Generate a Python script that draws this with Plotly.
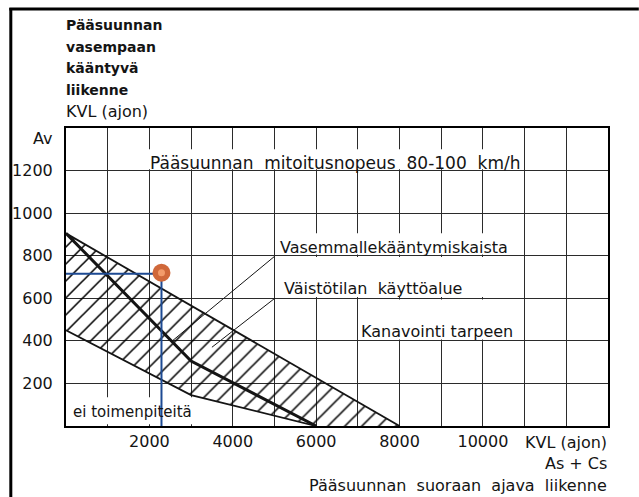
import plotly.graph_objects as go

# ---------------- data ----------------
KVL_UPPER = [0, 8000]            # upper boundary of the hatched area
AV_UPPER = [905, 0]
KVL_MID = [0, 3000, 6000]        # thick line (left-turn lane)
AV_MID = [905, 305, 0]
KVL_LOWER = [0, 3000, 6000]      # lower boundary of the hatched area
AV_LOWER = [450, 145, 0]
EXAMPLE_KVL = [2290]             # example point (orange dot)
EXAMPLE_AV = [720]
X_TICKS = [2000, 4000, 6000, 8000, 10000]
X_TICK_LABELS = ["2000", "4000", "6000", "8000", "10000"]
Y_TICKS = [200, 400, 600, 800, 1000, 1200]
Y_TICK_LABELS = ["200", "400", "600", "800", "1000", "1200"]

FONT = "DejaVu Sans"
INK = "#141414"
NB = "\u00a0"

W, H = 639, 497
ML, MR, MT, MB = 63, 31, 128, 71
PW, PH = W - ML - MR, H - MT - MB


def pxx(x):
    return (x - ML) / PW


def pxy(y):
    return (H - MB - y) / PH


fig = go.Figure()

# hatched area between upper and lower boundary
fig.add_trace(go.Scatter(
    x=KVL_UPPER + KVL_LOWER[::-1],
    y=AV_UPPER + AV_LOWER[::-1],
    mode="lines", line=dict(width=0), fill="toself",
    fillcolor="rgba(0,0,0,0)",
    fillpattern=dict(shape="/", fgcolor="#000000", bgcolor="rgba(0,0,0,0)",
                     fgopacity=1, size=12, solidity=0.13,
                     fillmode="overlay"),
    hoverinfo="skip", showlegend=False))

fig.add_trace(go.Scatter(x=KVL_UPPER, y=AV_UPPER, mode="lines",
                         line=dict(color=INK, width=1.8), showlegend=False))
fig.add_trace(go.Scatter(x=KVL_LOWER, y=AV_LOWER, mode="lines",
                         line=dict(color=INK, width=1.8), showlegend=False))
fig.add_trace(go.Scatter(x=KVL_MID, y=AV_MID, mode="lines",
                         line=dict(color=INK, width=3), showlegend=False))

# blue reading lines to the example point
fig.add_trace(go.Scatter(x=[0, EXAMPLE_KVL[0], EXAMPLE_KVL[0]],
                         y=[EXAMPLE_AV[0] - 5, EXAMPLE_AV[0] - 5, 0],
                         mode="lines", line=dict(color="#1d4a93", width=2),
                         showlegend=False))
fig.add_trace(go.Scatter(x=EXAMPLE_KVL, y=EXAMPLE_AV, mode="markers",
                         marker=dict(size=18, color="#d0683a",
                                     line=dict(width=0)), showlegend=False))
fig.add_trace(go.Scatter(x=EXAMPLE_KVL, y=EXAMPLE_AV, mode="markers",
                         marker=dict(size=7, color="#f39b6a",
                                     line=dict(width=0)), showlegend=False))

shapes = []
# white areas behind the labels (above gridlines, below traces)
for x0, x1, y0, y1 in [(1880, 10900, 1206, 1300),
                       (5050, 10800, 806, 905),
                       (5050, 10800, 606, 794),
                       (7080, 10800, 406, 594),
                       (100, 3100, 8, 135)]:
    shapes.append(dict(type="rect", xref="x", yref="y", x0=x0, x1=x1,
                       y0=y0, y1=y1, fillcolor="white", line=dict(width=0),
                       layer="between"))
# leader lines
for x0, y0, x1, y1 in [(5008, 798, 2550, 400), (5008, 600, 3500, 370)]:
    shapes.append(dict(type="line", xref="x", yref="y", x0=x0, y0=y0,
                       x1=x1, y1=y1, line=dict(color=INK, width=1)))
# outer frame (left and top)
shapes.append(dict(type="line", xref="paper", yref="paper", x0=pxx(7.5),
                   x1=pxx(7.5), y0=pxy(8), y1=pxy(497),
                   line=dict(color="black", width=3)))
shapes.append(dict(type="line", xref="paper", yref="paper", x0=pxx(6),
                   x1=pxx(639), y0=pxy(9), y1=pxy(9),
                   line=dict(color="black", width=3)))

ann = []


def txt(text, x, y, size=16, anchor="left", bold=False, xref="paper",
        yref="paper"):
    t = f"<b>{text}</b>" if bold else text
    ann.append(dict(text=t, x=x, y=y, xref=xref, yref=yref, xanchor=anchor,
                    yanchor="middle", showarrow=False,
                    font=dict(family=FONT, size=size, color=INK)))


# top-left axis title
for i, line in enumerate(["Pääsuunnan", "vasempaan", "kääntyvä", "liikenne"]):
    txt(line, pxx(61), pxy(25 + 21.7 * i), size=14, bold=True)
txt("KVL (ajon)", pxx(61), pxy(111.7), size=16)
txt("Av", pxx(51), pxy(138), size=16, anchor="right")

txt(f"Pääsuunnan{NB*2}mitoitusnopeus{NB*2}80-100{NB*2}km/h",
    pxx(145), pxy(163), size=17)
txt("Vasemmallekääntymiskaista", pxx(276), pxy(247), size=16)
txt(f"Väistötilan{NB*2}käyttöalue", pxx(280), pxy(288), size=16)
txt("Kanavointi tarpeen", pxx(358), pxy(331), size=16)
txt("ei toimenpiteitä", pxx(68), pxy(412), size=15)

# bottom axis title
txt("KVL (ajon)", pxx(609), pxy(442), size=16, anchor="right")
txt(f"As{NB}+{NB}Cs", pxx(609), pxy(463.5), size=16, anchor="right")
txt(f"Pääsuunnan{NB*2}suoraan{NB*2}ajava{NB*2}liikenne", pxx(609),
    pxy(485.5), size=16, anchor="right")

grid = dict(gridcolor="#2b2b2b", gridwidth=1.3)
fig.update_layout(
    width=W, height=H, autosize=False,
    margin=dict(l=ML, r=MR, t=MT, b=MB, pad=0),
    paper_bgcolor="white", plot_bgcolor="white",
    showlegend=False, shapes=shapes, annotations=ann,
    font=dict(family=FONT, size=16, color=INK),
    xaxis=dict(range=[0, 13000], tickvals=X_TICKS, ticktext=X_TICK_LABELS,
               showgrid=True, **grid, zeroline=False, ticks="",
               minor=dict(dtick=1000, showgrid=True, **grid),
               showline=True, mirror=True, linecolor="black", linewidth=2,
               tickfont=dict(family=FONT, size=16, color=INK)),
    yaxis=dict(range=[0, 1400], tickvals=Y_TICKS, ticktext=Y_TICK_LABELS,
               showgrid=True, **grid, zeroline=False, ticks="",
               minor=dict(dtick=200, showgrid=True, **grid),
               showline=True, mirror=True, linecolor="black", linewidth=2,
               ticklabelstandoff=8,
               tickfont=dict(family=FONT, size=16, color=INK)),
)

fig.write_html(
    "out.html",
    config={"displayModeBar": False},
    post_script="document.body.style.margin='0';"
                "document.body.style.overflow='hidden';")
